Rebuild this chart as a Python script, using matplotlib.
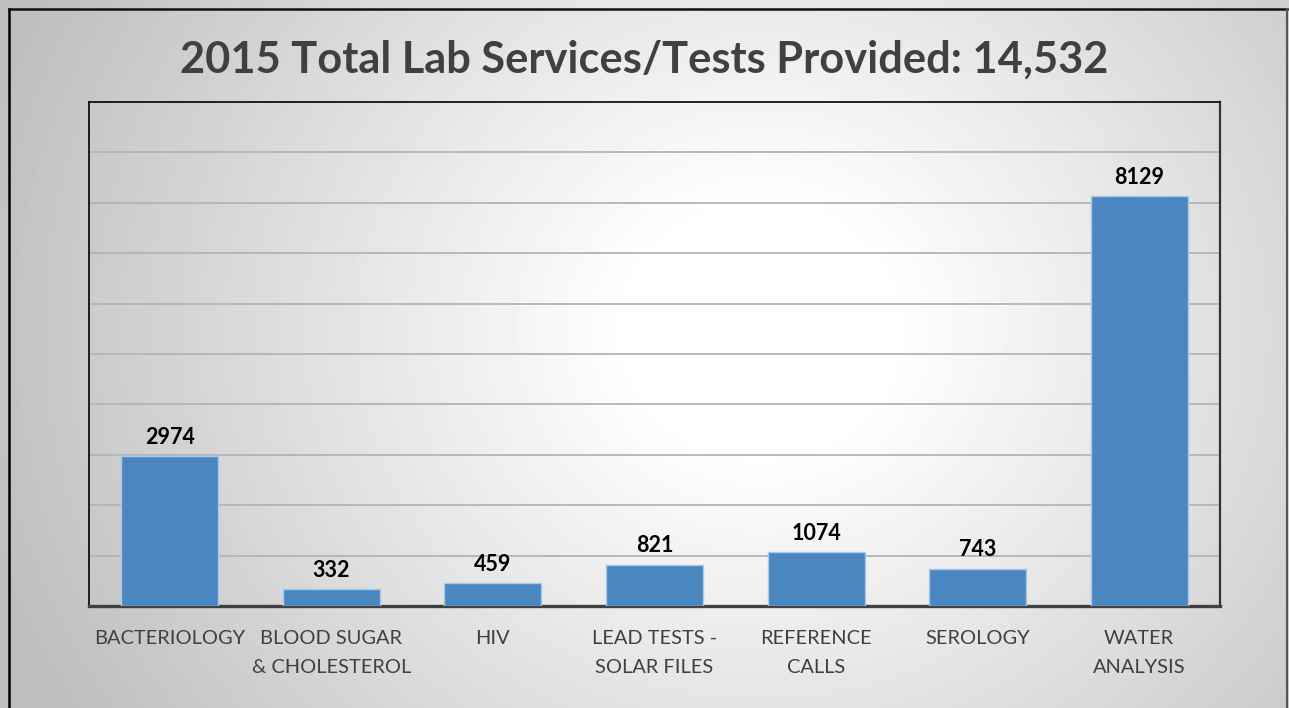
import matplotlib
matplotlib.use("Agg")
import matplotlib.pyplot as plt
import numpy as np

plt.rcParams['font.family'] = ['Lato', 'DejaVu Sans']

# data
categories = ['BACTERIOLOGY', 'BLOOD SUGAR\n& CHOLESTEROL', 'HIV',
              'LEAD TESTS -\nSOLAR FILES', 'REFERENCE\nCALLS', 'SEROLOGY',
              'WATER\nANALYSIS']
values = [2974, 332, 459, 821, 1074, 743, 8129]
title = '2015 Total Lab Services/Tests Provided: 14,532'

W, H = 1289, 708
fig = plt.figure(figsize=(W / 100, H / 100), dpi=100)

# background: radial gray gradient + outer frame
bg = fig.add_axes([0, 0, 1, 1], zorder=0)
yy, xx = np.mgrid[0:H, 0:W]
r = np.hypot(xx - 760, (yy - 330) * 1.1)
shade = 255 - 64 * np.clip((r - 130) / 670, 0, 1)
bg.imshow(shade, cmap='gray', vmin=0, vmax=255, extent=(0, W, H, 0), aspect='auto')
bg.plot([9, 9], [H + 5, 9], color='black', lw=1.8)
bg.plot([9, 1287], [9, 9], color='#111111', lw=1.8)
bg.plot([1287, 1287], [9, H + 5], color='#555555', lw=1.5)
bg.set_xlim(0, W)
bg.set_ylim(H, 0)
bg.axis('off')

# chart
ax = fig.add_axes([89 / W, 1 - 606 / H, (1220 - 89) / W, (606 - 102) / H], zorder=1)
ax.patch.set_alpha(0)
x = np.arange(len(categories))
bars = ax.bar(x, values, width=0.6, color='#4a86c0', edgecolor='#a9c8e6',
              linewidth=1.0, zorder=3)
ax.set_xlim(-0.5, len(categories) - 0.5)
ax.set_ylim(0, 10000)
ax.set_yticks(np.arange(1000, 10000, 1000))
ax.yaxis.grid(True, color='#b4b4b4', lw=1.3, zorder=0)
ax.tick_params(axis='y', left=False, labelleft=False)
ax.tick_params(axis='x', bottom=False, pad=14)
ax.set_xticks(x)
ax.set_xticklabels(categories, fontsize=14.4, color='#404040', linespacing=1.8, va='top')

for s in ['left', 'top']:
    ax.spines[s].set_color('black')
    ax.spines[s].set_linewidth(1.2)
ax.spines['right'].set_color('#333333')
ax.spines['right'].set_linewidth(1.6)
ax.spines['bottom'].set_color('#404040')
ax.spines['bottom'].set_linewidth(2.4)

for b, v in zip(bars, values):
    ax.annotate(str(v), (b.get_x() + b.get_width() / 2, v), xytext=(0, 6),
                textcoords='offset points', ha='center', va='bottom',
                fontsize=15.5, fontweight='bold', color='black')

fig.text(0.5, 1 - 60 / H, title, ha='center', va='center', fontsize=31.2,
         fontweight='bold', color='#404040')

fig.savefig('out.png', dpi=100)
